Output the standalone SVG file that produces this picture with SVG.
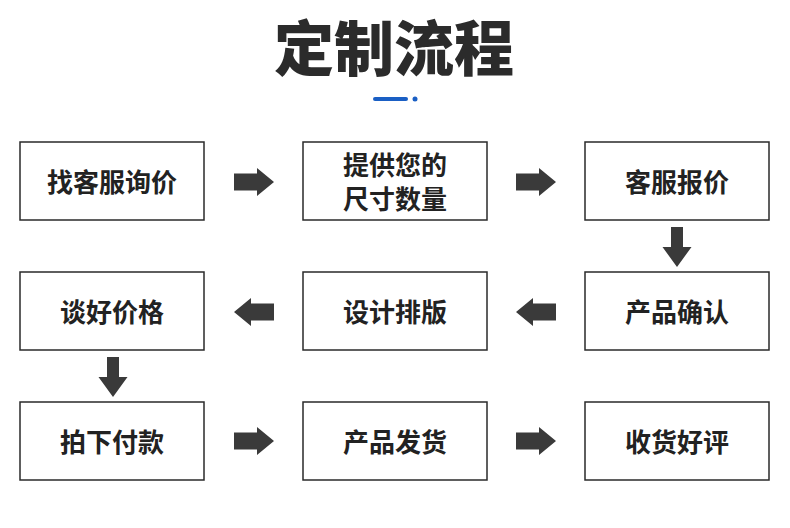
<svg xmlns="http://www.w3.org/2000/svg" width="790" height="528" viewBox="0 0 790 528">
<style>
.box{fill:#fff;stroke:#2a2a2a;stroke-width:1.5}
.t{font-family:"Noto Sans CJK SC","Noto Sans",sans-serif;font-weight:700;font-size:26px;fill:#222;text-anchor:middle;dominant-baseline:central}
.title{font-family:"Noto Sans CJK SC","Noto Sans",sans-serif;font-weight:900;font-size:60px;fill:#2b2b2b;text-anchor:middle}
.arr{fill:#3a3a3a}
</style>
<rect width="790" height="528" fill="#fff"/>
<text class="title" x="394" y="71">定制流程</text>
<rect x="373" y="97" width="35" height="4" rx="2" fill="#1a5fc4"/>
<circle cx="415" cy="99" r="2.5" fill="#1a5fc4"/>
<g id="n1"><rect class="box" x="20" y="142" width="184" height="78"/><text class="t" x="112" y="180">找客服询价</text></g>
<g id="n2"><rect class="box" x="303" y="142" width="184" height="78"/><text class="t" x="395" y="163">提供您的</text><text class="t" x="395" y="197">尺寸数量</text></g>
<g id="n3"><rect class="box" x="585" y="142" width="184" height="78"/><text class="t" x="677" y="180">客服报价</text></g>
<g id="n4"><rect class="box" x="585" y="272" width="184" height="78"/><text class="t" x="677" y="310">产品确认</text></g>
<g id="n5"><rect class="box" x="303" y="272" width="184" height="78"/><text class="t" x="395" y="310">设计排版</text></g>
<g id="n6"><rect class="box" x="20" y="272" width="184" height="78"/><text class="t" x="112" y="310">谈好价格</text></g>
<g id="n7"><rect class="box" x="20" y="402" width="184" height="78"/><text class="t" x="112" y="440">拍下付款</text></g>
<g id="n8"><rect class="box" x="303" y="402" width="184" height="78"/><text class="t" x="395" y="440">产品发货</text></g>
<g id="n9"><rect class="box" x="585" y="402" width="184" height="78"/><text class="t" x="677" y="440">收货好评</text></g>
<g id="connectors">
<defs>
<path id="ar" d="M0,-8.5 H23 V-14 L40,0 L23,14 V8.5 H0 Z"/>
<path id="ad" d="M-6,0 H6 V20 H14.5 L0,40 L-14.5,20 H-6 Z"/>
</defs>
<use href="#ar" class="arr" x="234" y="182"/>
<use href="#ar" class="arr" x="516" y="182"/>
<use href="#ad" class="arr" x="677" y="227"/>
<use href="#ar" class="arr" transform="translate(556,312) scale(-1,1)"/>
<use href="#ar" class="arr" transform="translate(274,312) scale(-1,1)"/>
<use href="#ad" class="arr" x="113" y="357"/>
<use href="#ar" class="arr" x="234" y="441"/>
<use href="#ar" class="arr" x="516" y="441"/>
</g>
</svg>
